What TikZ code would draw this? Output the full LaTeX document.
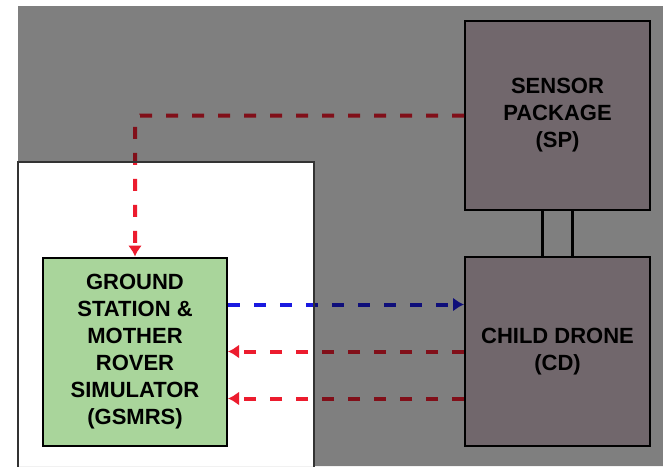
\documentclass[tikz,border=0pt]{standalone}
\usepackage{fontspec}
\setmainfont{Liberation Sans}
\usetikzlibrary{positioning,arrows.meta}
\definecolor{pagegray}{HTML}{E8E8E8}
\definecolor{dronemauve}{HTML}{CFBDC6}
\definecolor{gsgreen}{HTML}{A9D59B}
\definecolor{linkred}{HTML}{EC1C2E}
\definecolor{linkblue}{HTML}{1A1AE0}
\tikzset{
block/.style={
draw=black,
line width=2pt,
minimum width=185pt,
minimum height=189pt,
inner sep=0pt,
align=center,
font=\fontsize{22}{27}\selectfont\bfseries
},
drone/.style={
block,
fill=dronemauve
},
ground/.style={
block,
fill=gsgreen,
minimum width=184pt,
minimum height=188pt
},
redlink/.style={
-{Latex[length=11pt,width=14pt]},
draw=linkred,
line width=4pt,
dash pattern=on 12pt off 14pt
},
bluelink/.style={
redlink,
draw=linkblue
},
mount/.style={
draw=black,
line width=3pt
}
}
\begin{document}
\begin{tikzpicture}[x=1pt,y=-1pt,node distance=45pt]
\useasboundingbox (0,0) rectangle (663,466);
\fill[pagegray](18,6) rectangle (663,466);
\fill[white](18,162) rectangle (314,470);

\node[drone](cd) at (557.5,351.5){CHILD DRONE\\(CD)};
\node[drone,above=of cd](sp){SENSOR\\PACKAGE\\(SP)};
\node[ground,left=236pt of cd](gs){GROUND\\STATION \&\\MOTHER\\ROVER\\SIMULATOR\\(GSMRS)};

\draw[mount]([xshift=-15pt]sp.south)--([xshift=-15pt]cd.north);
\draw[mount]([xshift=15pt]sp.south)--([xshift=15pt]cd.north);

\draw[redlink,rounded corners=5pt](sp.west) -| (gs.north);
\draw[bluelink]([yshift=47pt]gs.east)--([yshift=47pt]cd.west);
\draw[redlink](cd.west)--(gs.east);
\draw[redlink]([yshift=-47pt]cd.west)--([yshift=-47pt]gs.east);

% dark veil over everything outside the ground station frame
\fill[black,opacity=0.45,even odd rule](18,6) rectangle (663,466) (18,162) rectangle (314,466);
\draw[black!80,line width=1.5pt](18,470)--(18,162)--(314,162)--(314,470);
\end{tikzpicture}
\end{document}
